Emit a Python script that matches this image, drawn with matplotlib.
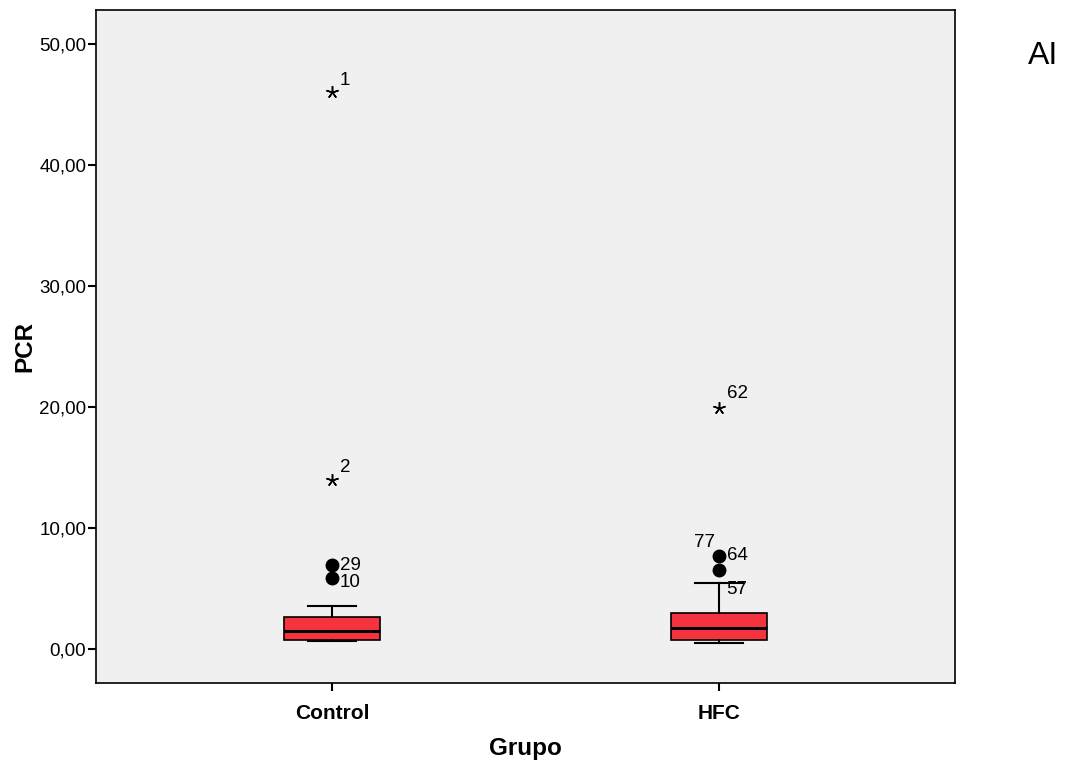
import matplotlib.pyplot as plt

plt.rcParams['font.family'] = ['Liberation Sans', 'DejaVu Sans']

# Datos
grupos = ["Control", "HFC"]
q1 = [0.74, 0.74]
mediana = [1.49, 1.74]
q3 = [2.64, 2.98]
bigote_inf = [0.70, 0.50]
bigote_sup = [3.55, 5.45]

# Atípicos (círculos) y extremos (estrellas), con su número de caso
atipicos = [[6.94, 5.87], [7.69, 6.53]]
atipicos_id = [["29", "10"], ["64", "77"]]
extremos = [[46.0, 13.97], [19.9]]
extremos_id = [["1", "2"], ["62"]]

fig = plt.figure(figsize=(10.67, 7.64), dpi=100)
ax = fig.add_axes([0.09, 0.106, 0.805, 0.881])
ax.set_facecolor("#f0f0f0")

stats = []
for i, g in enumerate(grupos):
    stats.append({"label": g, "q1": q1[i], "med": mediana[i], "q3": q3[i],
                  "whislo": bigote_inf[i], "whishi": bigote_sup[i], "fliers": []})

ax.bxp(stats, positions=[1, 2], widths=0.248, patch_artist=True, showfliers=False,
       boxprops=dict(facecolor="#f5333f", edgecolor="black", linewidth=1.2),
       medianprops=dict(color="black", linewidth=2.2),
       whiskerprops=dict(color="black", linewidth=1.5),
       capprops=dict(color="black", linewidth=1.5),
       capwidths=0.124)

for i in range(len(grupos)):
    pos = i + 1
    ax.plot([pos] * len(atipicos[i]), atipicos[i], "o", color="black", markersize=9)
    ax.plot([pos] * len(extremos[i]), extremos[i], marker=(5, 2, 0), linestyle="none",
            color="black", markersize=9, markeredgewidth=1.1)

# Etiquetas de casos
fs = 13.5
ax.text(1.02, atipicos[0][0], atipicos_id[0][0], fontsize=fs, va="center")
ax.text(1.02, atipicos[0][1] - 0.4, atipicos_id[0][1], fontsize=fs, va="center")
ax.text(2.02, atipicos[1][0], atipicos_id[1][0], fontsize=fs, va="center")
ax.text(1.99, atipicos[1][1] + 2.3, atipicos_id[1][1], fontsize=fs, va="center", ha="right")
ax.text(2.02, bigote_sup[1] - 0.5, "57", fontsize=fs, va="center")
ax.text(1.02, extremos[0][0] + 1.0, extremos_id[0][0], fontsize=fs, va="center")
ax.text(1.02, extremos[0][1] + 1.0, extremos_id[0][1], fontsize=fs, va="center")
ax.text(2.02, extremos[1][0] + 1.2, extremos_id[1][0], fontsize=fs, va="center")

ax.set_xlim(0.389, 2.611)
ax.set_ylim(-2.81, 52.8)
ax.set_yticks([0, 10, 20, 30, 40, 50])
ax.set_yticklabels(["0,00", "10,00", "20,00", "30,00", "40,00", "50,00"], fontsize=13.5)
ax.set_xticks([1, 2])
ax.set_xticklabels(grupos, fontsize=15, fontweight="bold")
ax.tick_params(direction="out", length=6, width=1.5)
ax.tick_params(axis="y", pad=1)
ax.tick_params(axis="x", pad=9)
for s in ax.spines.values():
    s.set_linewidth(1.2)

ax.set_xlabel("Grupo", fontsize=17.5, fontweight="bold", labelpad=10)
ax.set_ylabel("PCR", fontsize=17.5, fontweight="bold", labelpad=2)

fig.text(0.9775, 0.927, "AI", fontsize=23, ha="center", va="center")

fig.savefig("out.png", dpi=100)
